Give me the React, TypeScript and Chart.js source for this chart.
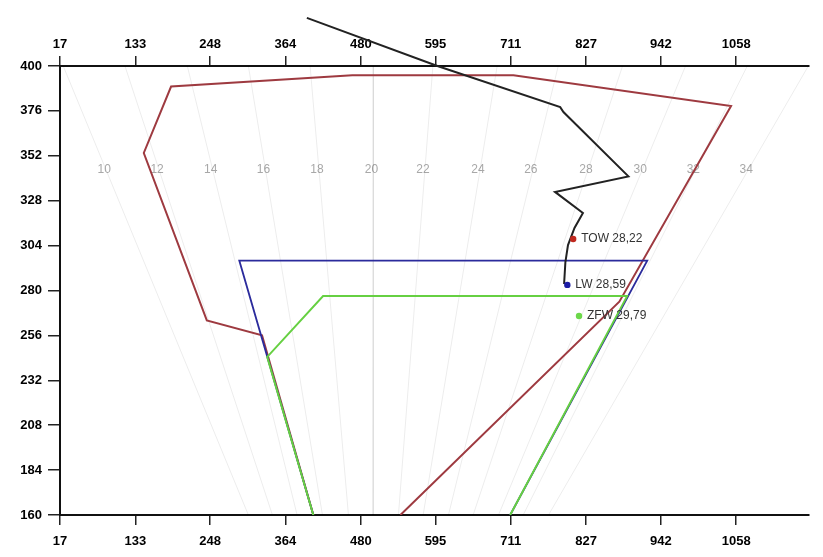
import { useEffect, useRef } from 'react';
import { Chart, registerables } from 'chart.js';

Chart.register(...registerables);

// Axis ticks
const xTicks = [17, 133, 248, 364, 480, 595, 711, 827, 942, 1058];
const yTicks = [160, 184, 208, 232, 256, 280, 304, 328, 352, 376, 400];

// Take-off envelope (red)
const envelopeX = [407, 328, 243, 146, 188, 467, 715, 1050, 878, 541];
const envelopeY = [160, 256, 264, 353.5, 389, 395, 395, 378.6, 274, 160];

// Landing envelope (blue)
const landingX = [407, 293, 921, 710];
const landingY = [160, 296, 296, 160];

// Zero-fuel envelope (green)
const zeroFuelX = [407, 336, 422, 890, 710];
const zeroFuelY = [160, 244.5, 277, 277, 160];

// CG path (black)
const cgPathX = [397, 598, 787, 792, 892, 779, 822, 809, 799, 795, 793];
const cgPathY = [425.7, 400, 378, 375.4, 341, 332.7, 321.4, 313.4, 304.3, 295.2, 283.5];

// Named points
const pointNames = ['TOW 28,22', 'LW 28,59', 'ZFW 29,79'];
const pointX = [807, 798, 816];
const pointY = [307.5, 283, 266.4];
const pointColors = ['#c0281e', '#1c1ca6', '#6cd84a'];

// %MAC reference lines
const macValues = [10, 12, 14, 16, 18, 20, 22, 24, 26, 28, 30, 32, 34];
const macTopX = [22, 117, 213, 307, 402, 499.6, 591, 690, 784, 883, 980, 1075, 1169];
const macBottomX = [307, 344, 382, 421, 461, 499, 538, 576, 615, 653, 692, 730, 769];
const macTopY = 400;
const macBottomY = 160;
const macLabelY = 344.4;

const FONT = "'Liberation Sans', Arial, sans-serif";

export default function App() {
  const ref = useRef<HTMLCanvasElement>(null);

  useEffect(() => {
    if (!ref.current) return;
    const pts = (xs: number[], ys: number[]) => xs.map((x, i) => ({ x, y: ys[i] }));

    const datasets: any[] = [];
    pointNames.forEach((n, i) => {
      datasets.push({
        label: n,
        data: [{ x: pointX[i], y: pointY[i] }],
        backgroundColor: pointColors[i],
        borderColor: pointColors[i],
        pointRadius: 3.2,
        borderWidth: 0,
        showLine: false,
      });
    });
    datasets.push({
      label: 'CG',
      data: pts(cgPathX, cgPathY),
      borderColor: '#222222',
      borderWidth: 2,
      pointRadius: 0,
      showLine: true,
      clip: false,
    });
    datasets.push({
      label: 'ZFW',
      data: pts(zeroFuelX, zeroFuelY),
      borderColor: '#66d042',
      borderWidth: 2,
      pointRadius: 0,
      showLine: true,
    });
    datasets.push({
      label: 'LW',
      data: pts(landingX, landingY),
      borderColor: '#2b2b9c',
      borderWidth: 1.8,
      pointRadius: 0,
      showLine: true,
    });
    datasets.push({
      label: 'TOW',
      data: pts(envelopeX, envelopeY),
      borderColor: '#9e3a40',
      borderWidth: 2,
      pointRadius: 0,
      showLine: true,
    });
    macValues.forEach((m, i) => {
      datasets.push({
        label: 'MAC ' + m,
        data: [
          { x: macTopX[i], y: macTopY },
          { x: macBottomX[i], y: macBottomY },
        ],
        borderColor: 'rgba(0,0,0,0.075)',
        borderWidth: 1,
        pointRadius: 0,
        showLine: true,
      });
    });

    const labelPlugin = {
      id: 'labels',
      beforeDatasetsDraw(chart: any) {
        const { ctx, scales } = chart;
        ctx.save();
        ctx.font = `12px ${FONT}`;
        ctx.fillStyle = '#a8a8a8';
        ctx.textAlign = 'center';
        ctx.textBaseline = 'middle';
        macValues.forEach((m, i) => {
          const t = (macTopY - macLabelY) / (macTopY - macBottomY);
          const xv = macTopX[i] + t * (macBottomX[i] - macTopX[i]);
          ctx.fillText(String(m), scales.x.getPixelForValue(xv) - 2, scales.y.getPixelForValue(macLabelY));
        });
        ctx.restore();
      },
      afterDatasetsDraw(chart: any) {
        const { ctx, scales } = chart;
        ctx.save();
        ctx.font = `12px ${FONT}`;
        ctx.fillStyle = '#333333';
        ctx.textAlign = 'left';
        ctx.textBaseline = 'middle';
        pointNames.forEach((n, i) => {
          ctx.fillText(n, scales.x.getPixelForValue(pointX[i]) + 8, scales.y.getPixelForValue(pointY[i]));
        });
        ctx.restore();
      },
    };

    const xAxis = (position: 'top' | 'bottom', h: number, pad: number) => ({
      type: 'linear',
      position,
      min: 17,
      max: 1170,
      afterBuildTicks: (s: any) => {
        s.ticks = xTicks.map((v) => ({ value: v }));
      },
      afterFit: (s: any) => {
        s.height = h;
      },
      ticks: {
        autoSkip: false,
        maxRotation: 0,
        color: '#000',
        padding: pad,
        font: { size: 13, family: FONT, weight: 'bold' },
        callback: (v: any) => String(v),
      },
      grid: {
        drawOnChartArea: false,
        drawTicks: true,
        tickLength: 10,
        color: '#222',
        lineWidth: 1.5,
      },
      border: { display: true, color: '#111', width: 2 },
    });

    const chart = new Chart(ref.current, {
      type: 'scatter',
      data: { datasets },
      options: {
        responsive: false,
        animation: false,
        events: [],
        layout: { padding: { top: 0, left: 0, right: 14, bottom: 0 } },
        plugins: { legend: { display: false }, tooltip: { enabled: false } },
        scales: {
          x: xAxis('bottom', 42, 9) as any,
          x2: xAxis('top', 66, 4) as any,
          y: {
            type: 'linear',
            min: 160,
            max: 400,
            afterBuildTicks: (s: any) => {
              s.ticks = yTicks.map((v) => ({ value: v }));
            },
            afterFit: (s: any) => {
              s.width = 60;
            },
            ticks: {
              autoSkip: false,
              color: '#000',
              padding: 6,
              font: { size: 13, family: FONT, weight: 'bold' },
            },
            grid: {
              drawOnChartArea: false,
              drawTicks: true,
              tickLength: 12,
              color: '#222',
              lineWidth: 1.5,
            },
            border: { display: true, color: '#111', width: 2 },
          },
        },
      },
      plugins: [labelPlugin],
    } as any);

    return () => chart.destroy();
  }, []);

  return (
    <div style={{ position: 'fixed', left: 0, top: 0, width: 823, height: 557, background: '#fff' }}>
      <canvas ref={ref} width={823} height={557} style={{ display: 'block' }} />
    </div>
  );
}
